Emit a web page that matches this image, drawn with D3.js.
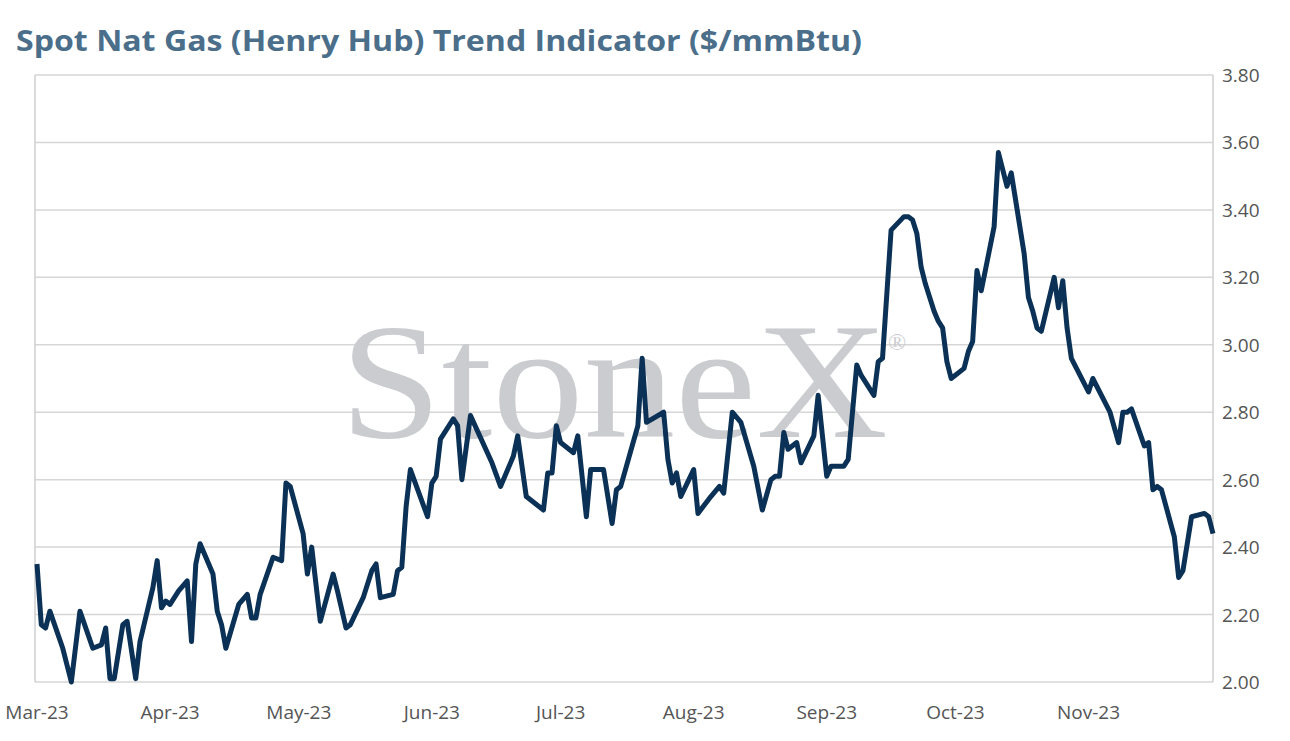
<!DOCTYPE html>
<html><head><meta charset="utf-8">
<script src="https://cdn.jsdelivr.net/npm/d3@7"></script>
<style>body{margin:0;background:#fff}</style></head>
<body><svg id="c" width="1290" height="741"></svg>
<script>
const dates=["03-01","03-02","03-03","03-04","03-07","03-09","03-11","03-14","03-16","03-17","03-18","03-19","03-21","03-22","03-24","03-25","03-28","03-29","03-30","03-31","04-01","04-03","04-05","04-06","04-07","04-08","04-11","04-12","04-13","04-14","04-17","04-19","04-20","04-21","04-22","04-25","04-27","04-28","04-29","05-02","05-03","05-04","05-06","05-09","05-10","05-12","05-13","05-16","05-18","05-19","05-20","05-23","05-24","05-25","05-26","05-27","05-31","06-01","06-02","06-03","06-06","06-07","06-08","06-10","06-15","06-17","06-20","06-21","06-23","06-27","06-28","06-29","06-30","07-01","07-04","07-05","07-07","07-08","07-11","07-13","07-14","07-15","07-19","07-20","07-21","07-25","07-26","07-27","07-28","07-29","08-01","08-02","08-05","08-07","08-08","08-10","08-12","08-15","08-17","08-19","08-20","08-21","08-22","08-23","08-25","08-26","08-29","08-30","09-01","09-02","09-04","09-05","09-06","09-08","09-09","09-12","09-13","09-14","09-16","09-19","09-20","09-21","09-22","09-23","09-24","09-26","09-27","09-28","09-29","09-30","10-03","10-04","10-05","10-06","10-07","10-10","10-11","10-13","10-14","10-17","10-18","10-19","10-20","10-21","10-24","10-25","10-26","10-27","10-28","11-01","11-02","11-06","11-08","11-09","11-10","11-11","11-14","11-15","11-16","11-17","11-18","11-21","11-22","11-23","11-25","11-28","11-29","11-30"];
const prices=[2.35,2.17,2.16,2.21,2.10,2.00,2.21,2.10,2.11,2.16,2.01,2.01,2.17,2.18,2.01,2.12,2.28,2.36,2.22,2.24,2.23,2.27,2.30,2.12,2.35,2.41,2.32,2.21,2.17,2.10,2.23,2.26,2.19,2.19,2.26,2.37,2.36,2.59,2.58,2.44,2.32,2.40,2.18,2.32,2.27,2.16,2.17,2.25,2.33,2.35,2.25,2.26,2.33,2.34,2.52,2.63,2.49,2.59,2.61,2.72,2.78,2.76,2.60,2.79,2.65,2.58,2.67,2.73,2.55,2.51,2.62,2.62,2.76,2.71,2.68,2.73,2.49,2.63,2.63,2.47,2.57,2.58,2.76,2.96,2.77,2.80,2.66,2.59,2.62,2.55,2.63,2.50,2.55,2.58,2.56,2.80,2.77,2.64,2.51,2.60,2.61,2.61,2.74,2.69,2.71,2.65,2.73,2.85,2.61,2.64,2.64,2.64,2.66,2.94,2.91,2.85,2.95,2.96,3.34,3.38,3.38,3.37,3.33,3.23,3.18,3.10,3.07,3.05,2.95,2.90,2.93,2.98,3.01,3.22,3.16,3.35,3.57,3.47,3.51,3.27,3.14,3.10,3.05,3.04,3.20,3.11,3.19,3.05,2.96,2.86,2.90,2.80,2.71,2.80,2.80,2.81,2.70,2.71,2.57,2.58,2.57,2.43,2.31,2.33,2.49,2.50,2.49,2.44];
const yTicks=[2.0,2.2,2.4,2.6,2.8,3.0,3.2,3.4,3.6,3.8];
const monthTicks=["2023-03-01","2023-04-01","2023-05-01","2023-06-01","2023-07-01","2023-08-01","2023-09-01","2023-10-01","2023-11-01"];
const title="Spot Nat Gas (Henry Hub) Trend Indicator ($/mmBtu)";

const svg=d3.select("#c");
const parse=d3.timeParse("%Y-%m-%d");
const data=dates.map((d,i)=>({d:parse("2023-"+d),v:prices[i]}));
const L=35,R=1213,T=75,B=682;
const x=d3.scaleTime().domain([parse("2023-03-01"),parse("2023-11-30")]).range([37,1213]);
const y=d3.scaleLinear().domain([2,3.8]).range([B,T]);
const font="'Open Sans', Lato, sans-serif";

svg.append("text").attr("x",16).attr("y",51).text(title)
 .attr("font-family",font).attr("font-weight","bold").attr("font-size",28).attr("fill","#4b6e8a")
 .attr("textLength",846).attr("lengthAdjust","spacingAndGlyphs");

svg.append("g").selectAll("line").data(yTicks).join("line")
 .attr("x1",L).attr("x2",R).attr("y1",d=>y(d)).attr("y2",d=>y(d)).attr("stroke","#d6d6d6").attr("stroke-width",1.5);
svg.append("line").attr("x1",L).attr("x2",L).attr("y1",T).attr("y2",B).attr("stroke","#cfcfcf").attr("stroke-width",1.5);
svg.append("line").attr("x1",R).attr("x2",R).attr("y1",T).attr("y2",B).attr("stroke","#cfcfcf").attr("stroke-width",1.5);

svg.append("text").attr("x",340).attr("y",437).text("StoneX")
 .attr("font-family","'Liberation Serif', 'DejaVu Serif', serif").attr("font-size",165).attr("fill","#cbccd0")
 .attr("textLength",548).attr("lengthAdjust","spacingAndGlyphs");
svg.append("text").attr("x",888).attr("y",350).text("®").attr("font-family","'Liberation Serif', serif").attr("font-size",24).attr("fill","#cbccd0");

svg.append("g").selectAll("text").data(yTicks).join("text")
 .attr("x",1222).attr("y",d=>y(d)+7).text(d=>d3.format(".2f")(d))
 .attr("font-family",font).attr("font-size",19).attr("fill","#555");
svg.append("g").selectAll("text").data(monthTicks).join("text")
 .attr("x",d=>x(parse(d))).attr("y",719).attr("text-anchor","middle").text(d=>d3.timeFormat("%b-%y")(parse(d)))
 .attr("font-family",font).attr("font-size",19).attr("fill","#555");

svg.append("path").datum(data).attr("fill","none").attr("stroke","#0b3256").attr("stroke-width",5).attr("stroke-linejoin","round")
 .attr("d",d3.line().x(d=>x(d.d)).y(d=>y(d.v)));
</script></body></html>
